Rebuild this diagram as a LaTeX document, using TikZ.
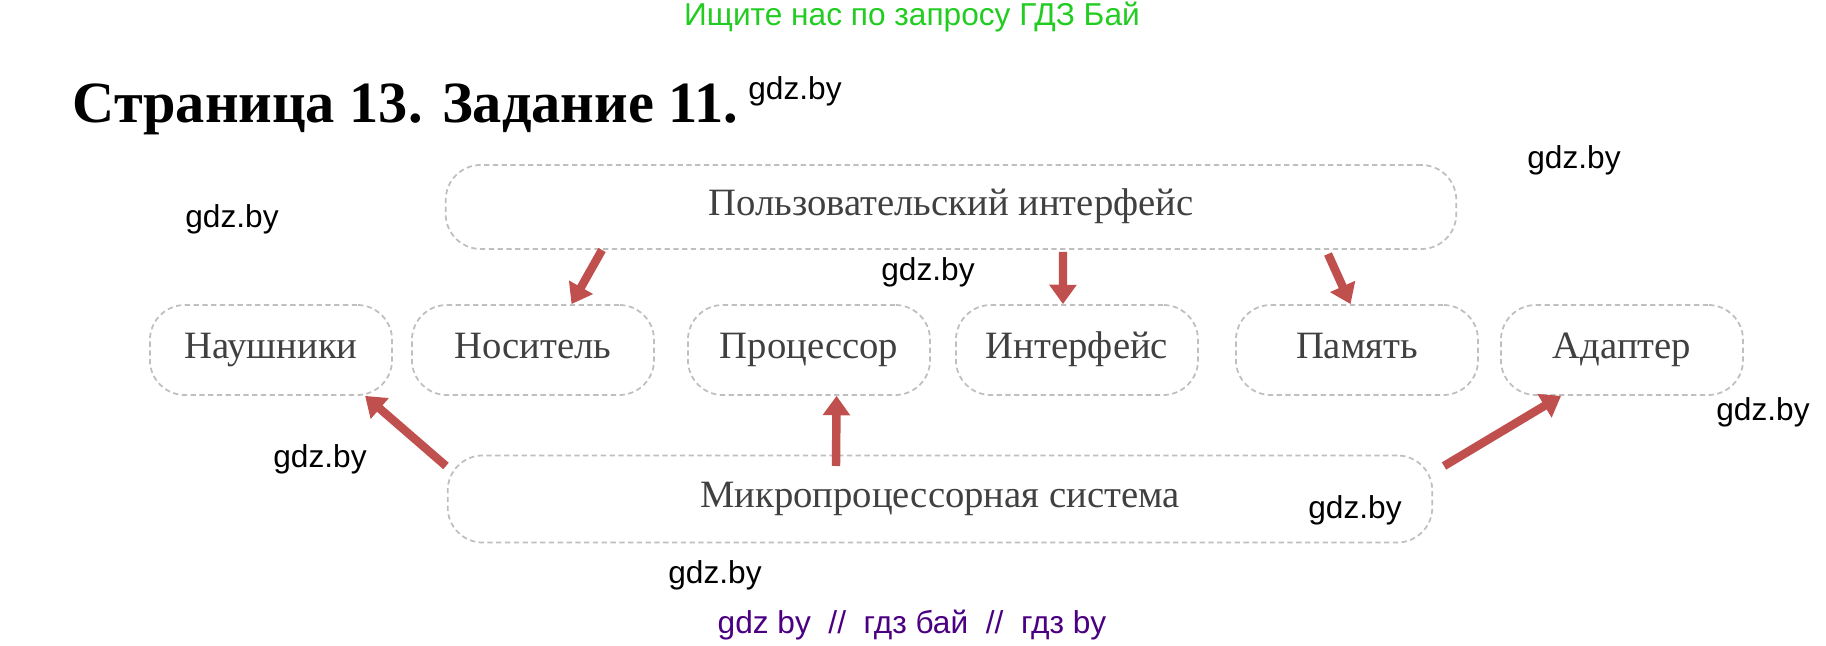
\documentclass[tikz,border=0pt]{standalone}
\usepackage{fontspec}
\setmainfont{Liberation Serif}
\newfontfamily\wmfont{Liberation Sans}
\usetikzlibrary{arrows.meta}
\definecolor{arrowred}{RGB}{192,80,77}
\definecolor{gdzgreen}{RGB}{34,204,34}
\definecolor{gdzpurple}{RGB}{75,0,130}

\begin{document}
\begin{tikzpicture}[x=0.01cm,y=-0.01cm,
  box/.style={draw=gray!50,dash pattern=on 1.5pt off 1pt,line width=0.5pt,rounded corners=0.35cm,
    minimum width=2.42cm,minimum height=0.9cm,text height=7.5pt,text depth=2.5pt,
    text=black!75,font=\fontsize{11}{13}\selectfont},
  arr/.style={draw=arrowred,line width=2.4pt,-{Triangle[length=5.5pt,width=7.5pt]}},
  wm/.style={font=\wmfont\fontsize{9}{11}\selectfont}]
  \useasboundingbox (0,0) rectangle (1826,646);
  \node[wm,text=gdzgreen](find) at (912,17){Ищите нас по запросу ГДЗ Бай};
  \node[anchor=base west,inner sep=0pt,font=\bfseries\fontsize{16.6}{20}\selectfont](title) at (72,123){Страница 13. Задание 11.};
  \node[box,minimum width=10.1cm,minimum height=0.84cm](top) at (951,207){Пользовательский интерфейс};
  \node[box](b1) at (271,350){Наушники};
  \node[box](b2) at (533,350){Носитель};
  \node[box](b3) at (809,350){Процессор};
  \node[box](b4) at (1077,350){Интерфейс};
  \node[box](b5) at (1357,350){Память};
  \node[box](b6) at (1622,350){Адаптер};
  \node[box,minimum width=9.84cm,minimum height=0.87cm](bottom) at (940,499){Микропроцессорная система};
  \node[wm](w1) at (795,91){gdz.by};
  \node[wm](w2) at (1574,160){gdz.by};
  \node[wm](w3) at (232,219){gdz.by};
  \node[wm](w4) at (928,272){gdz.by};
  \node[wm](w5) at (1763,412){gdz.by};
  \node[wm](w6) at (320,459){gdz.by};
  \node[wm](w7) at (1355,510){gdz.by};
  \node[wm](w8) at (715,575){gdz.by};
  \node[wm,text=gdzpurple](site) at (912,625){gdz by~~//~~гдз бай~~//~~гдз by};
  \coordinate(t2) at (602,250);
  \coordinate(t4) at (1063,252);
  \coordinate(t5) at (1328,254);
  \coordinate(u1) at (446,466);
  \coordinate(u3) at (836,466);
  \coordinate(u6) at (1444,466);
  \draw[arr] (t2)--(b2.50);
  \draw[arr] (t4)--(b4.107);
  \draw[arr] (t5)--(b5.98);
  \draw[arr] (u1)--(b1.-26);
  \draw[arr] (u3)--(b3.-59);
  \draw[arr] (u6)--(b6.-143);
\end{tikzpicture}
\end{document}
